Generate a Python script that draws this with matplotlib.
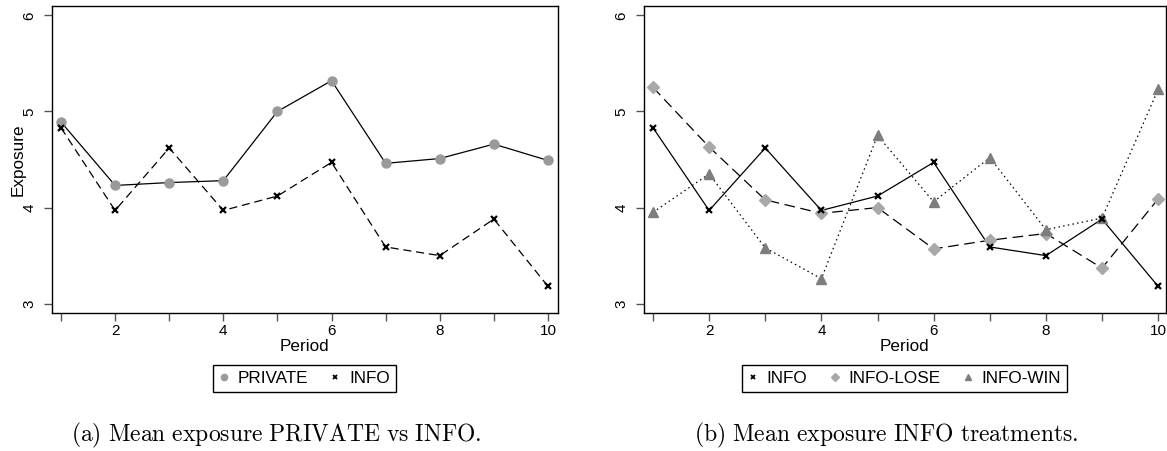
import matplotlib
matplotlib.use("Agg")
import matplotlib.pyplot as plt
from matplotlib.lines import Line2D

plt.rcParams['font.family'] = ['Liberation Sans', 'DejaVu Sans']
plt.rcParams['mathtext.fontset'] = 'cm'

periods = [1, 2, 3, 4, 5, 6, 7, 8, 9, 10]
private = [4.89, 4.23, 4.26, 4.28, 5.00, 5.32, 4.46, 4.51, 4.66, 4.49]
info = [4.83, 3.97, 4.62, 3.97, 4.12, 4.47, 3.59, 3.50, 3.88, 3.18]
info_lose = [5.25, 4.63, 4.08, 3.94, 4.00, 3.57, 3.66, 3.73, 3.37, 4.09]
info_win = [3.95, 4.35, 3.58, 3.26, 4.75, 4.06, 4.52, 3.77, 3.89, 5.23]

xtick_vals = [1, 2, 3, 4, 5, 6, 7, 8, 9, 10]
xtick_labels = ['', '2', '', '4', '', '6', '', '8', '', '10']
ytick_vals = [3, 4, 5, 6]
ytick_labels = ['3', '4', '5', '6']
caption_a = r'$\mathrm{(a)\ Mean\ exposure\ PRIVATE\ vs\ INFO.}$'
caption_b = r'$\mathrm{(b)\ Mean\ exposure\ INFO\ treatments.}$'

C_PRIV = '#9a9a9a'
C_LOSE = '#a8a8a8'
C_WIN = '#7d7d7d'

W, H = 1167, 451
fig = plt.figure(figsize=(W / 100, H / 100), dpi=100)

def fx(px):
    return px / W

def fy(py):
    return 1 - py / H

ax1 = fig.add_axes([fx(51.7), fy(312.7), fx(557.7 - 51.7), (312.7 - 6) / H])
ax2 = fig.add_axes([fx(643.7), fy(312.7), fx(1166 - 643.7), (312.7 - 6) / H])

def style(ax):
    ax.set_ylim(2.906, 6.097)
    ax.set_xticks(xtick_vals)
    ax.set_xticklabels(xtick_labels)
    ax.set_yticks(ytick_vals)
    ax.set_yticklabels(ytick_labels, rotation=90, va='center')
    ax.tick_params(axis='both', direction='out', length=5.5, width=1.0,
                   color='#555555', labelsize=11, labelcolor='black')
    ax.tick_params(axis='x', pad=2.5)
    ax.tick_params(axis='y', pad=5.5)
    for s in ax.spines.values():
        s.set_linewidth(1.0)
        s.set_color('black')
    ax.set_xlabel('Period', fontsize=12.3)
    ax.xaxis.set_label_coords(0.5, -0.085)

ax1.set_xlim(0.828, 10.18)
ax2.set_xlim(0.834, 10.14)
style(ax1)
style(ax2)
ax1.set_ylabel('Exposure', fontsize=12.3)
ax1.yaxis.set_label_coords(-0.052, 0.5)

# left panel
ax1.plot(periods, private, color='black', lw=0.9, zorder=2)
ax1.plot(periods, private, linestyle='none', marker='o', ms=6.5,
         color=C_PRIV, mec=C_PRIV, zorder=3)
ax1.plot(periods, info, color='black', lw=0.9, dashes=(6.5, 3.8), zorder=2)
ax1.plot(periods, info, linestyle='none', marker='x', ms=4.5, mew=1.6,
         color='black', zorder=3)

# right panel
ax2.plot(periods, info, color='black', lw=0.9, zorder=2)
ax2.plot(periods, info, linestyle='none', marker='x', ms=4.5, mew=1.6,
         color='black', zorder=4)
ax2.plot(periods, info_lose, color='black', lw=0.9, dashes=(8.5, 4.5), zorder=2)
ax2.plot(periods, info_lose, linestyle='none', marker='D', ms=5.8,
         color=C_LOSE, mec=C_LOSE, zorder=3)
ax2.plot(periods, info_win, color='black', lw=0.9, dashes=(1.2, 2.6), zorder=2)
ax2.plot(periods, info_win, linestyle='none', marker='^', ms=7,
         color=C_WIN, mec=C_WIN, zorder=3)

def legend(ax, handles, labels):
    leg = ax.legend(handles, labels, loc='center', bbox_to_anchor=(0.5, -0.2145),
                    ncol=len(labels), fontsize=12.3, frameon=True, fancybox=False,
                    edgecolor='black', framealpha=1, handlelength=0.5,
                    handletextpad=0.57, columnspacing=1.34, borderpad=0.35,
                    borderaxespad=0)
    leg.get_frame().set_linewidth(1.0)
    return leg

h_priv = Line2D([], [], linestyle='none', marker='o', ms=4.5, color=C_PRIV, mec=C_PRIV)
h_info = Line2D([], [], linestyle='none', marker='x', ms=3.5, mew=1.3, color='black')
h_lose = Line2D([], [], linestyle='none', marker='D', ms=4.2, color=C_LOSE, mec=C_LOSE)
h_win = Line2D([], [], linestyle='none', marker='^', ms=4.8, color=C_WIN, mec=C_WIN)

legend(ax1, [h_priv, h_info], ['PRIVATE', 'INFO'])
legend(ax2, [h_info, h_lose, h_win], ['INFO', 'INFO-LOSE', 'INFO-WIN'])

fig.text(fx(276), fy(441), caption_a, ha='center', va='baseline', fontsize=17)
fig.text(fx(886.5), fy(441), caption_b, ha='center', va='baseline', fontsize=17)

fig.savefig('out.png', dpi=100)
